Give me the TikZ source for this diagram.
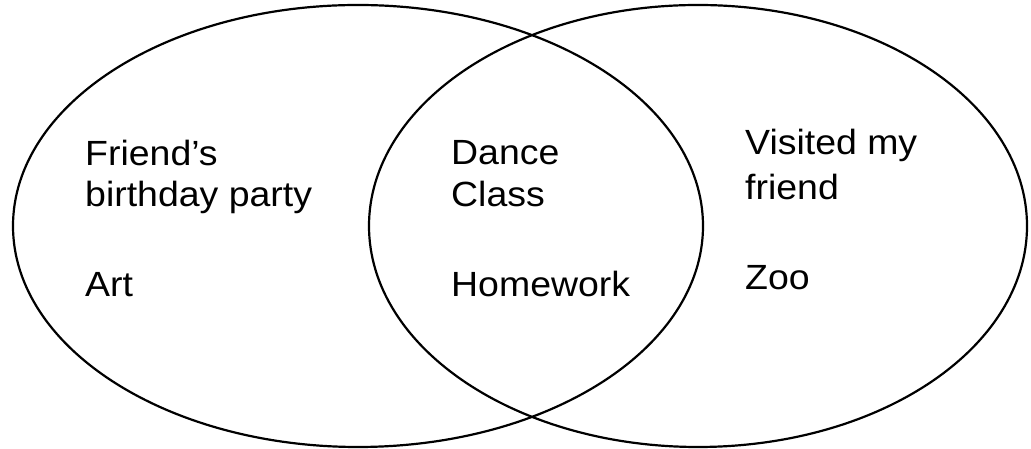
\documentclass[tikz,border=0pt]{standalone}
\usepackage{fontspec}
\setmainfont{Liberation Sans}
\newfontfamily\widesans[FakeStretch=1.07]{Liberation Sans}
\usetikzlibrary{shapes.geometric}
\tikzset{
  setshape/.style={ellipse, draw=black, line width=2.2pt, inner sep=0pt},
  label text/.style={anchor=base west, inner sep=0pt, align=left, font=\widesans\fontsize{35}{42}\selectfont}
}
\begin{document}
\begin{tikzpicture}[x=1pt,y=1pt]
\useasboundingbox (0,0) rectangle (1031,449);
\node[setshape, minimum width=690pt, minimum height=442pt] (left) at (358,223) {};
\node[setshape, minimum width=658pt, minimum height=442pt] (right) at (698,223) {};
% base anchor of a two-line node sits on its last line
\node[label text, font=\widesans\fontsize{35}{41}\selectfont] (friend) at (85,242) {Friend’s\\birthday party};
\node[label text] (art) at (85,152) {Art};
\node[label text] (dance) at (451,242) {Dance\\Class};
\node[label text] (homework) at (451,152) {Homework};
\node[label text, font=\widesans\fontsize{35}{45}\selectfont] (visited) at (745,249) {Visited my\\friend};
\node[label text] (zoo) at (745,159) {Zoo};
\end{tikzpicture}
\end{document}
